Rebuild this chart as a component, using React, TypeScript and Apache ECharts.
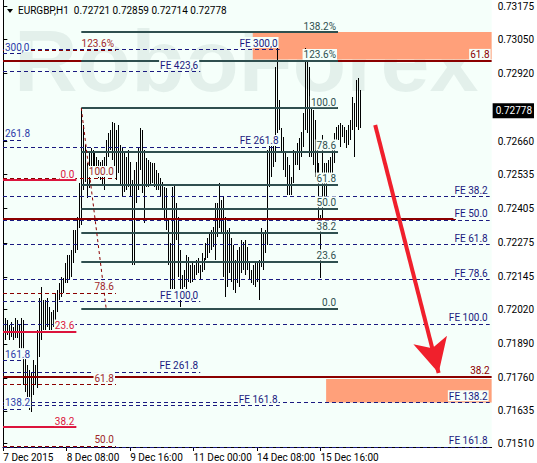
import React, { useEffect, useRef } from 'react';
import * as echarts from 'echarts';

// ---- axes ----
const timeTicks = [0, 32, 64, 96, 128, 160];
const timeLabels = ['7 Dec 2015', '8 Dec 08:00', '9 Dec 16:00', '11 Dec 00:00', '14 Dec 08:00', '15 Dec 16:00'];
const priceTicks = [0.73175, 0.7305, 0.7292, 0.7266, 0.72535, 0.72405, 0.72275, 0.72145, 0.7202, 0.7189, 0.7176, 0.71635, 0.7151];
const X_MIN = -0.15;
const X_MAX = 246.35;
const Y_MIN = 0.714971;
const Y_MAX = 0.732;

// ---- H1 bars (high / low) ----
const barHigh = [
  0.72008, 0.71988, 0.71981, 0.71962, 0.71973, 0.71954, 0.71988, 0.71981, 0.71962, 0.71988,
  0.71981, 0.7184, 0.71809, 0.7179, 0.71783, 0.71828, 0.71809, 0.71943, 0.72065, 0.72107,
  0.72057, 0.72057, 0.72065, 0.7203, 0.72011, 0.72019, 0.72084, 0.72095, 0.72122, 0.72145,
  0.72141, 0.72198, 0.72228, 0.72228, 0.72248, 0.72324, 0.72324, 0.72373, 0.72503, 0.72789,
  0.72724, 0.72648, 0.72579, 0.72617, 0.72636, 0.72629, 0.72621, 0.72602, 0.7259, 0.72583,
  0.7259, 0.72602, 0.72667, 0.72693, 0.72705, 0.72735, 0.72731, 0.72705, 0.72724, 0.72648,
  0.72636, 0.72621, 0.72602, 0.72629, 0.72583, 0.72514, 0.72552, 0.72583, 0.7264, 0.72712,
  0.72705, 0.72629, 0.72598, 0.7259, 0.72583, 0.72579, 0.72579, 0.72552, 0.72541, 0.72522,
  0.72507, 0.72488, 0.72484, 0.72362, 0.72274, 0.72488, 0.72495, 0.72427, 0.72373, 0.72248,
  0.72152, 0.72171, 0.72228, 0.72221, 0.7219, 0.72202, 0.7219, 0.72209, 0.72217, 0.7219,
  0.72236, 0.72217, 0.72274, 0.72293, 0.72316, 0.72324, 0.72335, 0.72427, 0.72427, 0.72503,
  0.72438, 0.72449, 0.72373, 0.72324, 0.72331, 0.72293, 0.72267, 0.72209, 0.72248, 0.72259,
  0.72286, 0.72278, 0.72286, 0.72259, 0.72198, 0.72171, 0.7219, 0.72198, 0.72202, 0.72209,
  0.72331, 0.72312, 0.72324, 0.72629, 0.72655, 0.72648, 0.72678, 0.72945, 0.73017, 0.72819,
  0.72712, 0.72678, 0.72617, 0.72602, 0.72571, 0.72526, 0.72629, 0.72621, 0.72655, 0.72674,
  0.72697, 0.7277, 0.73017, 0.72971, 0.72945, 0.7283, 0.72781, 0.72743, 0.72667, 0.72579,
  0.72381, 0.72686, 0.72579, 0.72579, 0.7259, 0.72602, 0.7264, 0.72693, 0.72716, 0.72724,
  0.72731, 0.72724, 0.72716, 0.72705, 0.72724, 0.72743, 0.7283, 0.72808, 0.72895, 0.72903,
  0.72859,
];
const barLow = [
  0.71867, 0.71905, 0.71924, 0.71905, 0.71916, 0.71905, 0.71912, 0.71912, 0.71874, 0.71859,
  0.71733, 0.71707, 0.71665, 0.71638, 0.7163, 0.71695, 0.71733, 0.71722, 0.7184, 0.71905,
  0.71943, 0.71943, 0.71954, 0.71943, 0.71943, 0.71954, 0.71981, 0.72011, 0.72057, 0.72068,
  0.72084, 0.72122, 0.72122, 0.72133, 0.72145, 0.72198, 0.72236, 0.72248, 0.72331, 0.72343,
  0.72476, 0.72507, 0.72446, 0.72484, 0.72552, 0.72564, 0.72545, 0.72526, 0.72522, 0.72514,
  0.72495, 0.72476, 0.72552, 0.72602, 0.72629, 0.7259, 0.72545, 0.72514, 0.72541, 0.72495,
  0.72449, 0.72469, 0.72476, 0.72488, 0.72449, 0.7219, 0.7219, 0.72427, 0.72476, 0.72552,
  0.72465, 0.7235, 0.72488, 0.72488, 0.72495, 0.72503, 0.72488, 0.72476, 0.72476, 0.72449,
  0.724, 0.72362, 0.72324, 0.7219, 0.72095, 0.72095, 0.72095, 0.72286, 0.72145, 0.7203,
  0.72068, 0.72107, 0.72095, 0.72126, 0.72122, 0.72126, 0.72133, 0.72152, 0.7216, 0.72133,
  0.72164, 0.72171, 0.72209, 0.72217, 0.72236, 0.72248, 0.72259, 0.72209, 0.72297, 0.72331,
  0.72312, 0.72145, 0.72068, 0.72107, 0.7216, 0.72126, 0.72095, 0.72084, 0.72122, 0.72107,
  0.7216, 0.72171, 0.72152, 0.72171, 0.72133, 0.72122, 0.72114, 0.72107, 0.72126, 0.72057,
  0.72183, 0.72171, 0.72236, 0.72267, 0.72488, 0.72526, 0.72564, 0.72583, 0.72693, 0.72705,
  0.72617, 0.72552, 0.72526, 0.72457, 0.72457, 0.72457, 0.72503, 0.72571, 0.72571, 0.72552,
  0.72602, 0.7264, 0.72705, 0.72693, 0.72602, 0.72602, 0.72571, 0.72526, 0.72526, 0.72335,
  0.72141, 0.72362, 0.72449, 0.72449, 0.72503, 0.72503, 0.72541, 0.72579, 0.7264, 0.72667,
  0.7264, 0.72678, 0.72655, 0.72636, 0.72648, 0.72667, 0.72705, 0.72602, 0.72716, 0.72705,
  0.72714,
];
const lastBar = [0.72721, 0.72859, 0.72714, 0.72778]; // O H L C

// ---- Fibonacci retracement (dark slate) ----
const retrLabels = ['138.2%', '123.6%', '100.0', '78.6', '61.8', '50.0', '38.2', '23.6', '0.0'];
const retrPrices = [0.73078, 0.72968, 0.72788, 0.72623, 0.72497, 0.72406, 0.72314, 0.72204, 0.72025];
const retrSpan = [39.35, 168.85];
const retrTrendFrom = [39.35, 0.72788];
const retrTrendTo = [51.85, 0.72027];

// ---- Fibonacci expansion levels (navy dashed) ----
const feLabels = ['FE 300,0', 'FE 423,6', 'FE 261.8', 'FE 38.2', 'FE 50.0', 'FE 61.8', 'FE 78.6', 'FE 100,0', 'FE 100.0', 'FE 261.8', 'FE 138.2', 'FE 161.8', 'FE 161.8'];
const fePrices = [0.73013, 0.72929, 0.7264, 0.72453, 0.72362, 0.7227, 0.72137, 0.72053, 0.71966, 0.71783, 0.71668, 0.71657, 0.71498];
const feEnds = [139.35, 99.35, 139.85, 245.35, 245.35, 245.35, 245.35, 99.35, 245.35, 99.35, 245.35, 139.35, 245.35];
const stubLabels = ['300,0', '261.8', '161.8', '138.2'];
const stubPrices = [0.72998, 0.72667, 0.71828, 0.71642];
const stubEnd = 10.35;

// ---- other Fibonacci grids ----
const bigFibLabels = ['61.8', '', '38.2'];
const bigFibPrices = [0.72968, 0.72368, 0.71764];
const bigFibEnds = [246.35, 228.35, 246.35];
const redFibLabels = ['123.6%', '100.0', '78.6', '61.8', '50.0'];
const redFibPrices = [0.7301, 0.72522, 0.72084, 0.71737, 0.71501];
const redFibEnd = 56.85;
const crimsonLabels = ['0.0', '23.6', '38.2'];
const crimsonPrices = [0.72514, 0.71937, 0.71573];
const crimsonEnd = 36.85;

// ---- target zones and forecast arrow ----
const zoneFrom = [[125.85, 0.73078], [162.85, 0.71756]];
const zoneTo = [[246.35, 0.72973], [246.35, 0.71667]];
const arrowFrom = [187.6, 0.72724];
const arrowTo = [219.6, 0.71779];

const BG = '#F5FFFA';
const FONT = 'Roboto, "Liberation Sans", sans-serif';
const NAVY = '#1A1A80';
const DARKRED = '#8B0000';
const CRIMSON = '#DC143C';
const SLATE = '#2F4F4F';

function seg(text: string, price: number, x1: number, x2: number, color: string, width: number, type: any, pos: string, labelColor?: string) {
  return [
    {
      coord: [x1, price],
      lineStyle: { color, width, type },
      label: {
        show: !!text,
        formatter: text,
        position: pos,
        color: labelColor || color,
        fontSize: 10,
        fontFamily: FONT,
        backgroundColor: BG,
        padding: [1, 1, 0, 1],
        distance: 1,
      },
    },
    { coord: [x2, price] },
  ];
}

export default function App() {
  const ref = useRef<HTMLDivElement>(null);
  useEffect(() => {
    if (!ref.current) return;
    const chart = echarts.init(ref.current, undefined, { renderer: 'svg' });

    const bars = barHigh.map((h, i) => [i, barLow[i], h]);

    const levels: any[] = [];
    bigFibLabels.forEach((t, i) => levels.push(seg(t, bigFibPrices[i], X_MIN, bigFibEnds[i], DARKRED, 2, 'solid', 'insideEndTop')));
    feLabels.forEach((t, i) => levels.push(seg(t, fePrices[i], X_MIN, feEnds[i], NAVY, 1, [4, 3], 'insideEndTop')));
    stubLabels.forEach((t, i) => levels.push(seg(t, stubPrices[i], X_MIN, stubEnd, NAVY, 1, [4, 3], 'insideStartTop', '#2A3AA8')));
    redFibLabels.forEach((t, i) => levels.push(seg(t, redFibPrices[i], X_MIN, redFibEnd, DARKRED, 1, [4, 3], 'insideEndTop', '#A0282A')));
    crimsonLabels.forEach((t, i) => levels.push(seg(t, crimsonPrices[i], X_MIN, crimsonEnd, CRIMSON, 2, 'solid', 'insideEndTop')));
    retrLabels.forEach((t, i) => levels.push(seg(t, retrPrices[i], retrSpan[0], retrSpan[1], SLATE, 2, 'solid', 'insideEndTop')));
    levels.push([
      { coord: retrTrendFrom, lineStyle: { color: DARKRED, width: 1, type: [3, 3] }, label: { show: false } },
      { coord: retrTrendTo },
    ]);

    const zones = zoneFrom.map((f, i) => [{ coord: f }, { coord: zoneTo[i] }]);

    chart.setOption({
      animation: false,
      backgroundColor: '#FFFFFF',
      title: {
        text: 'EURGBP,H1\u00a0\u00a0' + lastBar.map((v) => v.toFixed(5)).join(' '),
        left: 18,
        top: 5,
        padding: 0,
        textStyle: { fontSize: 10, fontWeight: 'normal', color: '#000', fontFamily: FONT },
      },
      graphic: [
        {
          type: 'text',
          z: 1,
          silent: true,
          style: {
            text: 'RoboForex',
            x: 14,
            y: 60,
            verticalAlign: 'middle',
            fontSize: 88,
            fontWeight: 'bold',
            fontFamily: '"Liberation Sans", Arial, sans-serif',
            fill: 'rgba(20,60,60,0.075)',
          },
        },
        {
          type: 'polygon',
          z: 10,
          shape: { points: [[7, 9], [13, 9], [10, 13]] },
          style: { fill: '#000' },
        },
      ],
      grid: { left: 3, right: 41, top: 0, bottom: 16, show: true, backgroundColor: BG, borderWidth: 0 },
      xAxis: {
        type: 'value',
        min: X_MIN,
        max: X_MAX,
        axisLine: { show: true, lineStyle: { color: '#000', width: 1 } },
        axisTick: { show: true, length: 4, customValues: timeTicks, lineStyle: { color: '#000' } },
        axisLabel: {
          customValues: timeTicks,
          formatter: (v: number) => timeLabels[timeTicks.indexOf(Math.round(v))] || '',
          align: 'left',
          margin: 5,
          color: '#000',
          fontSize: 10,
          fontFamily: FONT,
        },
        splitLine: { show: false },
      },
      yAxis: [
        {
          type: 'value',
          position: 'right',
          min: Y_MIN,
          max: Y_MAX,
          axisLine: { show: true, lineStyle: { color: '#000', width: 1 } },
          axisTick: { show: true, length: 4, customValues: priceTicks, lineStyle: { color: '#000' } },
          axisLabel: {
            customValues: priceTicks,
            formatter: (v: number) => v.toFixed(5),
            margin: 6,
            color: '#000',
            fontSize: 10,
            fontFamily: FONT,
          },
          splitLine: { show: false },
        },
        {
          type: 'value',
          position: 'left',
          min: Y_MIN,
          max: Y_MAX,
          axisLine: { show: true, lineStyle: { color: '#000', width: 1 } },
          axisTick: { show: false },
          axisLabel: { show: false },
          splitLine: { show: false },
        },
      ],
      series: [
        {
          type: 'line',
          data: [],
          z: 2,
          silent: true,
          markArea: { silent: true, itemStyle: { color: '#FFA07A' }, data: zones },
        },
        {
          type: 'line',
          data: [],
          z: 3,
          silent: true,
          markLine: { silent: true, symbol: ['none', 'none'], precision: 5, data: levels },
        },
        {
          type: 'custom',
          z: 4,
          silent: true,
          data: bars,
          encode: { x: 0, y: [1, 2] },
          renderItem: (params: any, api: any) => {
            const hi = api.coord([api.value(0), api.value(2)]);
            const lo = api.coord([api.value(0), api.value(1)]);
            const x = Math.round(hi[0]) + 0.5;
            return {
              type: 'line',
              shape: { x1: x, y1: Math.round(hi[1]), x2: x, y2: Math.round(lo[1]) },
              style: { stroke: '#000', lineWidth: 1 },
            };
          },
        },
        {
          type: 'line',
          data: [],
          z: 5,
          silent: true,
          markLine: {
            silent: true,
            symbol: ['none', 'arrow'],
            symbolSize: 26,
            lineStyle: { color: '#F0202C', width: 4, type: 'solid' },
            label: { show: false },
            data: [[
              { coord: arrowFrom, symbol: 'none' },
              { coord: arrowTo, symbol: 'arrow', symbolSize: [26, 34], itemStyle: { color: '#F0202C' } },
            ]],
          },
        },
        {
          type: 'line',
          data: [],
          z: 6,
          silent: true,
          markLine: {
            silent: true,
            symbol: ['none', 'none'],
            data: [
              [
                {
                  coord: [X_MIN, lastBar[3]],
                  lineStyle: { width: 0, color: 'rgba(0,0,0,0)' },
                  label: {
                    show: true,
                    position: 'end',
                    formatter: lastBar[3].toFixed(5),
                    color: '#FFF',
                    backgroundColor: '#000',
                    padding: [3, 2, 2, 3],
                    fontSize: 10,
                    fontFamily: FONT,
                    distance: 1,
                  },
                },
                { coord: [X_MAX, lastBar[3]] },
              ],
            ],
          },
        },
      ],
    });
    return () => chart.dispose();
  }, []);
  return <div ref={ref} style={{ position: 'absolute', left: 0, top: 0, width: 537, height: 463 }} />;
}
